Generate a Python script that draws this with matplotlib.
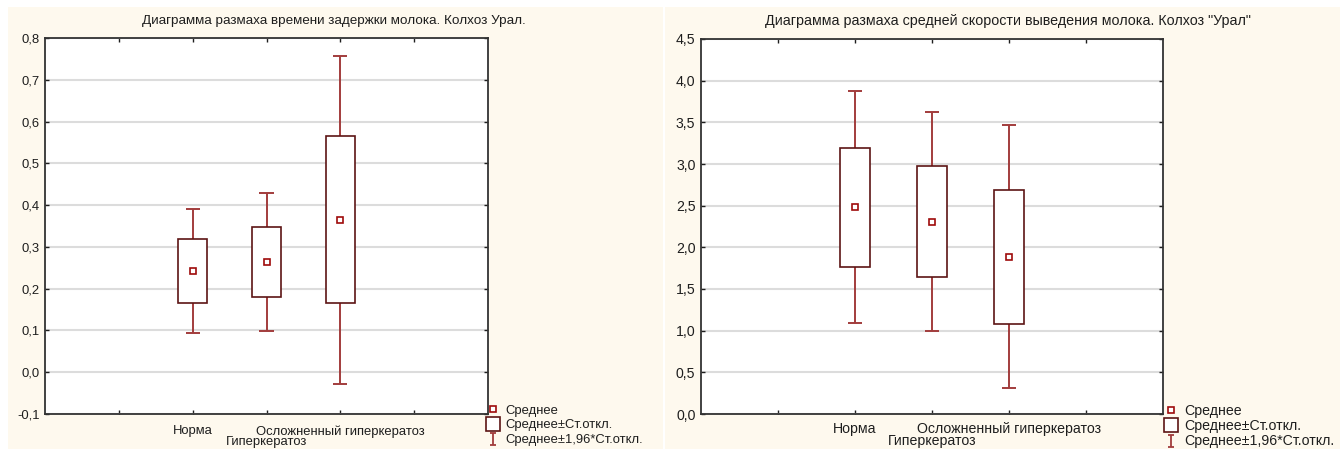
import numpy as np
import matplotlib
matplotlib.use("Agg")
import matplotlib.pyplot as plt
from matplotlib.patches import Rectangle
from matplotlib.lines import Line2D
from matplotlib.path import Path
from matplotlib.ticker import FuncFormatter

plt.rcParams['font.family'] = ['Liberation Sans', 'DejaVu Sans']

# Groups (the middle label is not printed on the axis)
categories = ["Норма", "Гиперкератоз", "Осложненный гиперкератоз"]
tick_labels = ["Норма", "", "Осложненный гиперкератоз"]
x_title = "Гиперкератоз"

# Milk let-down delay time
delay_mean = [0.242, 0.264, 0.365]
delay_sd = [0.076, 0.084, 0.200]
delay_title = "Диаграмма размаха времени задержки молока. Колхоз Урал."

# Mean milk flow rate
rate_mean = [2.48, 2.31, 1.885]
rate_sd = [0.71, 0.67, 0.805]
rate_title = 'Диаграмма размаха средней скорости выведения молока. Колхоз "Урал"'

legend_labels = ["Среднее", "Среднее±Ст.откл.", "Среднее±1,96*Ст.откл."]

BOX_EDGE = "#5c1414"
WHISKER = "#a23c3c"
MEAN_COL = "#9e0b0b"
PANEL = "#fef9ee"
GRID = "#dcdcdc"
TEXT = "#1e1e1e"

W, H = 1340, 449
fig = plt.figure(figsize=(W / 100, H / 100), dpi=100)
fig.patch.set_facecolor("white")


def px_rect(x0, y0, x1, y1):
    return [x0 / W, 1 - y1 / H, (x1 - x0) / W, (y1 - y0) / H]


# beige panels behind each chart
for (x0, x1) in [(8, 663), (665, 1340)]:
    r = px_rect(x0, 7, x1, 449)
    fig.patches.append(Rectangle((r[0], r[1]), r[2], r[3], transform=fig.transFigure,
                                 facecolor=PANEL, edgecolor="none", zorder=-10))

# "I"-shaped legend marker for the ±1.96 SD whiskers
whisker_marker = Path(
    [(-0.45, 1), (0.45, 1), (0, 1), (0, -1), (-0.45, -1), (0.45, -1)],
    [Path.MOVETO, Path.LINETO, Path.MOVETO, Path.LINETO, Path.MOVETO, Path.LINETO])


def comma(v, pos):
    return f"{v:.1f}".replace(".", ",").replace("−", "-")


def draw(rect, means, sds, title, ylim, yticks, fsize, tsize, xpad, title_x,
         legend_x, legend_space):
    x0, y0, x1, y1 = rect
    ax = fig.add_axes(px_rect(*rect))
    ax.set_facecolor("white")
    ax.set_xlim(0, 6)
    ax.set_ylim(*ylim)
    ax.set_yticks(yticks)
    ax.yaxis.set_major_formatter(FuncFormatter(comma))
    ax.set_xticks([1, 2, 3, 4, 5])
    ax.set_xticklabels(["", tick_labels[0], tick_labels[1], tick_labels[2], ""])
    ax.tick_params(direction="in", length=3, width=1, top=True, right=True,
                   labelsize=fsize, colors=TEXT, pad=4)
    ax.tick_params(axis="x", pad=xpad)
    ax.grid(axis="y", color=GRID, linewidth=1.5)
    ax.set_axisbelow(True)
    for s in ax.spines.values():
        s.set_linewidth(1.3)
        s.set_color("#333333")

    xs = np.arange(len(means)) + 2
    bw, cw = 0.40, 0.19
    for x, m, sd in zip(xs, means, sds):
        lo1, hi1 = m - sd, m + sd
        lo2, hi2 = m - 1.96 * sd, m + 1.96 * sd
        ax.vlines(x, hi1, hi2, color=WHISKER, lw=1.4, zorder=2)
        ax.vlines(x, lo2, lo1, color=WHISKER, lw=1.4, zorder=2)
        ax.hlines([lo2, hi2], x - cw / 2, x + cw / 2, color=WHISKER, lw=1.4, zorder=2)
        ax.add_patch(Rectangle((x - bw / 2, lo1), bw, hi1 - lo1, facecolor="white",
                               edgecolor=BOX_EDGE, lw=1.2, zorder=3))
    ax.plot(xs, means, linestyle="none", marker="s", ms=5, mfc="white",
            mec=MEAN_COL, mew=1.2, zorder=4)

    # axis title just under the tick labels
    ax.set_xlabel(x_title, fontsize=fsize, color=TEXT)
    ax.xaxis.set_label_coords(0.5, (y1 - 441.5) / (y1 - y0))
    ax.xaxis.label.set_va("center")

    fig.text(title_x / W, 1 - 21 / H, title, ha="center", va="center",
             fontsize=tsize, color=TEXT)

    # legend rows, drawn one per line in the right margin
    h_mean = Line2D([], [], linestyle="none", marker="s", ms=5, mfc="white",
                    mec=MEAN_COL, mew=1.2)
    h_box = Line2D([], [], linestyle="none", marker="s", ms=10, mfc="white",
                   mec=BOX_EDGE, mew=1.2)
    h_err = Line2D([], [], linestyle="none", marker=whisker_marker, ms=9,
                   mfc="none", mec=WHISKER, mew=1.3)
    rows_y = [410.5, 410.5 + legend_space, 410.5 + 2 * legend_space]
    for h, lab, yy in zip([h_mean, h_box, h_err], legend_labels, rows_y):
        fig.legend([h], [lab], loc="center left",
                   bbox_to_anchor=(legend_x / W, 1 - yy / H),
                   frameon=False, fontsize=fsize, handlelength=1.0,
                   handletextpad=0.45, borderpad=0, borderaxespad=0,
                   labelcolor=TEXT)
    return ax


draw((45, 38, 488, 414), delay_mean, delay_sd, delay_title, (-0.1, 0.8),
     np.round(np.arange(-0.1, 0.81, 0.1), 1), 9.4, 9.7, 8, 334, 486, 14.8)
draw((701, 39, 1163, 414), rate_mean, rate_sd, rate_title, (0.0, 4.5),
     np.arange(0, 4.51, 0.5), 10.2, 10.3, 6, 1008, 1164, 15.5)

fig.savefig("out.png", dpi=100, facecolor=fig.get_facecolor())
